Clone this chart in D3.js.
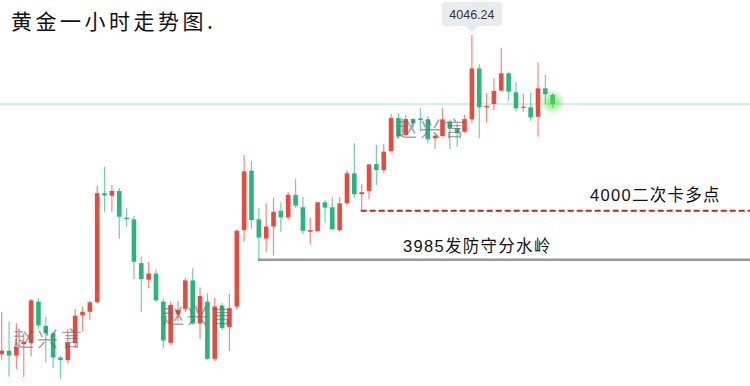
<!DOCTYPE html>
<html>
<head>
<meta charset="utf-8">
<script src="https://cdn.jsdelivr.net/npm/d3@7"></script>
<style>
  body { margin: 0; background: #fff; }
  svg { display: block; }
</style>
</head>
<body>
<script>
// hourly candles: open, high, low, close
var opens  = [3948.5,3949.6,3948.1,3951.6,3951.9,3964.6,3957.2,3954.9,3947.5,3946.7,
              3951.9,3960.4,3961.5,3964.4,3997.8,3997.0,3998.5,3990.3,3989.8,3976.4,
              3971.3,3973.2,3964.6,3952.0,3960.7,3962.4,3971.1,3957.9,3964.6,3947.1,
              3963.4,3956.8,3963.1,3986.5,4004.7,3989.8,3983.9,3987.6,3992.4,3990.4,
              3997.3,3993.5,3986.0,3986.2,3995.0,3993.5,3986.5,3994.8,4003.9,3997.5,
              3998.5,4006.7,4004.9,4010.7,4020.8,4015.6,4020.5,4020.7,4020.4,4014.6,
              4015.3,4019.7,4017.7,4016.6,4020.4,4036.0,4024.1,4025.1,4029.2,4034.5,
              4028.7,4024.0,4024.1,4021.2,4029.9,4027.9];
var highs  = [3961.5,3958.4,3958.0,3955.0,3965.4,3965.8,3960.0,3955.4,3948.0,3956.2,
              3962.4,3963.1,3964.8,4000.1,4005.9,4000.3,3999.5,3993.2,3990.9,3978.4,
              3976.7,3974.5,3965.6,3964.6,3964.8,3971.9,3974.8,3968.9,3967.2,3965.8,
              3964.3,3966.9,3986.8,4009.5,4007.7,3993.2,3994.7,3996.4,3995.0,3998.1,
              4002.1,3996.6,3990.4,3995.2,3995.7,3996.6,3996.6,4004.9,4013.1,4000.6,
              4006.7,4012.6,4012.8,4022.1,4022.3,4021.8,4020.8,4023.8,4021.4,4015.6,
              4023.8,4020.4,4019.2,4021.8,4046.24,4037.3,4028.4,4033.0,4042.3,4035.0,
              4031.8,4028.2,4028.6,4037.9,4034.0,4028.4];
var lows   = [3946.8,3941.6,3944.0,3941.5,3947.8,3956.2,3946.0,3944.2,3940.9,3945.7,
              3950.3,3955.4,3959.0,3964.1,3992.1,3992.1,3983.8,3987.6,3971.5,3961.4,
              3968.7,3964.6,3950.3,3951.3,3958.5,3961.4,3957.5,3953.2,3946.8,3946.4,
              3955.9,3949.5,3962.1,3982.9,3986.8,3976.9,3979.9,3978.7,3986.0,3989.6,
              3993.2,3985.3,3982.2,3986.0,3988.8,3986.5,3986.0,3994.2,3996.3,3992.4,
              3996.0,4000.3,4003.9,4010.2,4014.6,4015.4,4017.8,4016.6,4013.1,4011.3,
              4015.1,4011.3,4012.0,4016.3,4019.2,4014.6,4019.4,4023.3,4028.9,4026.1,
              4022.8,4022.8,4020.0,4015.1,4025.1,4023.8];
var closes = [3949.6,3948.1,3950.7,3952.3,3965.0,3957.3,3954.9,3947.5,3946.7,3952.0,
              3960.3,3961.5,3964.4,3997.8,3997.1,3998.5,3990.6,3989.9,3976.8,3971.5,
              3973.2,3965.0,3952.7,3963.6,3962.1,3971.1,3957.9,3966.3,3947.1,3963.1,
              3956.5,3962.6,3986.3,4004.5,3989.6,3984.2,3987.6,3992.1,3990.4,3997.3,
              3994.0,3986.3,3986.5,3995.0,3993.4,3986.8,3994.7,4003.9,3997.5,3998.1,
              4006.6,4004.9,4010.5,4020.8,4015.2,4020.5,4019.2,4020.2,4014.3,4015.4,
              4020.4,4017.7,4016.2,4020.5,4036.0,4024.1,4024.5,4029.1,4034.5,4028.9,
              4023.8,4024.3,4021.0,4029.9,4028.1,4025.1];

var titleText = "黄金一小时走势图.";
var highLabel = "4046.24";
var levelPrices = [3992.4, 3977.4];
var levelLabels = ["4000二次卡多点", "3985发防守分水岭"];
var levelStart = [49, 35];
var watermark = "赵兴言";
var watermarkSpots = [[13, 346], [163, 323], [396, 136]];

var width = 750, height = 386;
var upColor = "#ea4a3b", downColor = "#25b77d";

var candles = opens.map(function(o, i) {
  return {i: i, o: o, h: highs[i], l: lows[i], c: closes[i]};
});

var svg = d3.select("body").append("svg")
  .attr("width", width)
  .attr("height", height);

var x = d3.scaleLinear().domain([0, candles.length - 1]).range([1.7, 552.7]);
var y = d3.scaleLinear().domain([3940, 4050]).range([382, 22.7]);
var bodyW = 4.6;

// last price line
var last = candles[candles.length - 1];
svg.append("line")
  .attr("x1", 0).attr("x2", width)
  .attr("y1", y(last.c)).attr("y2", y(last.c))
  .attr("stroke", "#a6e2ca").attr("stroke-width", 1);

// annotation levels
var levelStyles = [
  {stroke: "#d01c1c", width: 2, dash: "6,3", labelX: 590, dy: -10},
  {stroke: "#9a9a9a", width: 2.5, dash: null, labelX: 403, dy: -8}
];
levelPrices.forEach(function(p, k) {
  var st = levelStyles[k];
  svg.append("line")
    .attr("x1", x(levelStart[k]) - 1).attr("x2", width)
    .attr("y1", y(p)).attr("y2", y(p))
    .attr("stroke", st.stroke)
    .attr("stroke-width", st.width)
    .attr("stroke-dasharray", st.dash);
  svg.append("text")
    .attr("x", st.labelX).attr("y", y(p) + st.dy)
    .attr("font-family", "'Liberation Sans', 'Noto Sans CJK SC', sans-serif")
    .attr("font-size", 16.5)
    .attr("letter-spacing", 1.3)
    .attr("fill", "#111")
    .text(levelLabels[k]);
});

// candles
var g = svg.append("g");
g.selectAll("line.wick")
  .data(candles)
  .enter().append("line")
  .attr("class", "wick")
  .attr("x1", function(d) { return x(d.i); })
  .attr("x2", function(d) { return x(d.i); })
  .attr("y1", function(d) { return y(d.h); })
  .attr("y2", function(d) { return y(d.l); })
  .attr("stroke", function(d) { return d.c >= d.o ? upColor : downColor; })
  .attr("stroke-opacity", 0.65)
  .attr("stroke-width", 1.2);

g.selectAll("rect.body")
  .data(candles)
  .enter().append("rect")
  .attr("class", "body")
  .attr("x", function(d) { return x(d.i) - bodyW / 2; })
  .attr("y", function(d) { return y(Math.max(d.o, d.c)); })
  .attr("width", bodyW)
  .attr("height", function(d) { return Math.max(1.2, Math.abs(y(d.o) - y(d.c))); })
  .attr("fill", function(d) { return d.c >= d.o ? upColor : downColor; });

// glow on last candle
var defs = svg.append("defs");
var grad = defs.append("radialGradient").attr("id", "glow");
grad.append("stop").attr("offset", "0%").attr("stop-color", "#4fdc3f").attr("stop-opacity", 0.75);
grad.append("stop").attr("offset", "100%").attr("stop-color", "#4fdc3f").attr("stop-opacity", 0);
svg.append("circle")
  .attr("cx", x(last.i)).attr("cy", y(last.c) - 2)
  .attr("r", 13)
  .attr("fill", "url(#glow)");

// watermarks
watermarkSpots.forEach(function(s) {
  svg.append("text")
    .attr("x", s[0]).attr("y", s[1])
    .attr("font-family", "'Noto Sans CJK SC', sans-serif")
    .attr("font-size", 21)
    .attr("letter-spacing", 3)
    .attr("fill", "#666")
    .attr("fill-opacity", 0.6)
    .text(watermark);
});

// high tooltip
var peak = candles[d3.maxIndex(candles, function(d) { return d.h; })];
var tx = x(peak.i), ty = y(peak.h);
var tip = svg.append("g");
tip.append("rect")
  .attr("x", tx - 30).attr("y", 2)
  .attr("width", 60).attr("height", 24)
  .attr("rx", 4)
  .attr("fill", "#e9ecef");
tip.append("path")
  .attr("d", "M" + (tx - 6) + ",26 L" + tx + "," + (ty - 2) + " L" + (tx + 6) + ",26 Z")
  .attr("fill", "#e9ecef");
tip.append("text")
  .attr("x", tx).attr("y", 19)
  .attr("text-anchor", "middle")
  .attr("font-family", "'Liberation Sans', Arial, sans-serif")
  .attr("font-size", 12.5)
  .attr("fill", "#333")
  .text(highLabel);

// title
svg.append("text")
  .attr("x", 11).attr("y", 29)
  .attr("font-family", "'Noto Sans CJK SC', sans-serif")
  .attr("font-size", 21)
  .attr("letter-spacing", 3.5)
  .attr("fill", "#111")
  .text(titleText);
</script>
</body>
</html>
